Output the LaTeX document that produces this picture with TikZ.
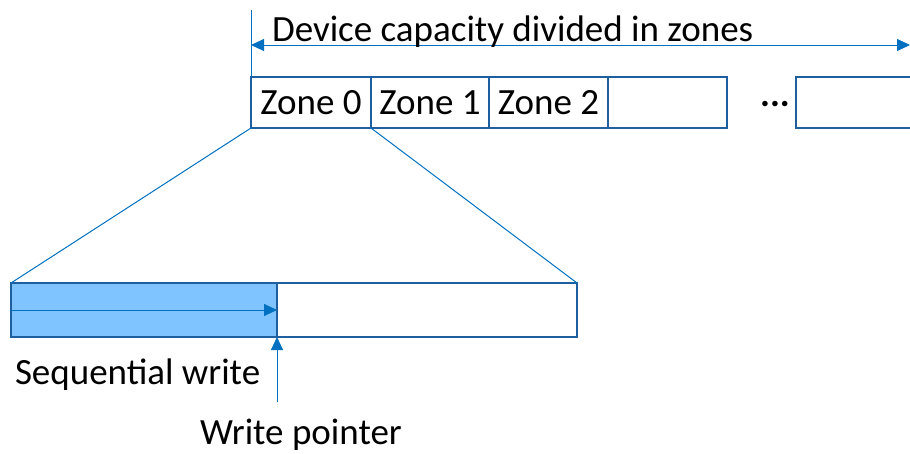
\documentclass[tikz,border=0pt]{standalone}
\usepackage{fontspec}
\setmainfont{Carlito}
\usetikzlibrary{arrows.meta}
\definecolor{edge}{HTML}{1F5F9F}
\definecolor{thin}{HTML}{0070C0}
\definecolor{done}{HTML}{80C4FF}
\tikzset{
  every node/.style={outer sep=0pt},
  bigtext/.style={font=\fontsize{37}{44}\selectfont},
  zonebox/.style={draw=edge, line width=2.2pt, minimum height=51pt, inner sep=0pt, anchor=north west, bigtext},
  guide/.style={draw=thin, line width=1pt},
  head/.tip={Triangle[length=13pt,width=12pt]},
  tip/.style={-{head}},
  lbl/.style={bigtext, inner sep=0pt}
}
\begin{document}
\begin{tikzpicture}[x=1pt,y=-1pt]
\useasboundingbox (0,0) rectangle (910,453);
% zones across the device
\node[zonebox, minimum width=120pt] (z0) at (251,77) {Zone 0};
\node[zonebox, minimum width=118pt] (z1) at (z0.north east) {Zone 1};
\node[zonebox, minimum width=119pt] (z2) at (z1.north east) {Zone 2};
\node[zonebox, minimum width=119pt] (z3) at (z2.north east) {};
\node[zonebox, minimum width=130pt] (zn) at (796,77) {};
\node[lbl] (dots) at (775,104) {\textbf{...}};
% capacity span
\coordinate (top) at (251,10);
\coordinate (spanL) at (251,45);
\coordinate (spanR) at (910,45);
\draw[guide] (top) -- (z0.north west);
\draw[guide, {head}-{head}] (spanL) -- (spanR);
\node[lbl, anchor=base west] (cap) at (272,41) {Device capacity divided in zones};
% zone 0 enlarged
\node[draw=edge, line width=2.2pt, fill=done, minimum width=266pt, minimum height=54pt, inner sep=0pt, anchor=north west] (used) at (11,283) {};
\node[draw=edge, line width=2.2pt, minimum width=300pt, minimum height=54pt, inner sep=0pt, anchor=north west] (free) at (used.north east) {};
\draw[guide] (z0.south west) -- (used.north west);
\draw[guide] (z0.south east) -- (free.north east);
\draw[guide, tip] (used.west) -- (used.east);
\coordinate (wpfoot) at (277,402);
\draw[guide, tip] (wpfoot) -- (used.south east);
\node[lbl, anchor=base west] (seq) at (15,384) {Sequential write};
\node[lbl, anchor=base west] (wp) at (200,444) {Write pointer};
\end{tikzpicture}
\end{document}
